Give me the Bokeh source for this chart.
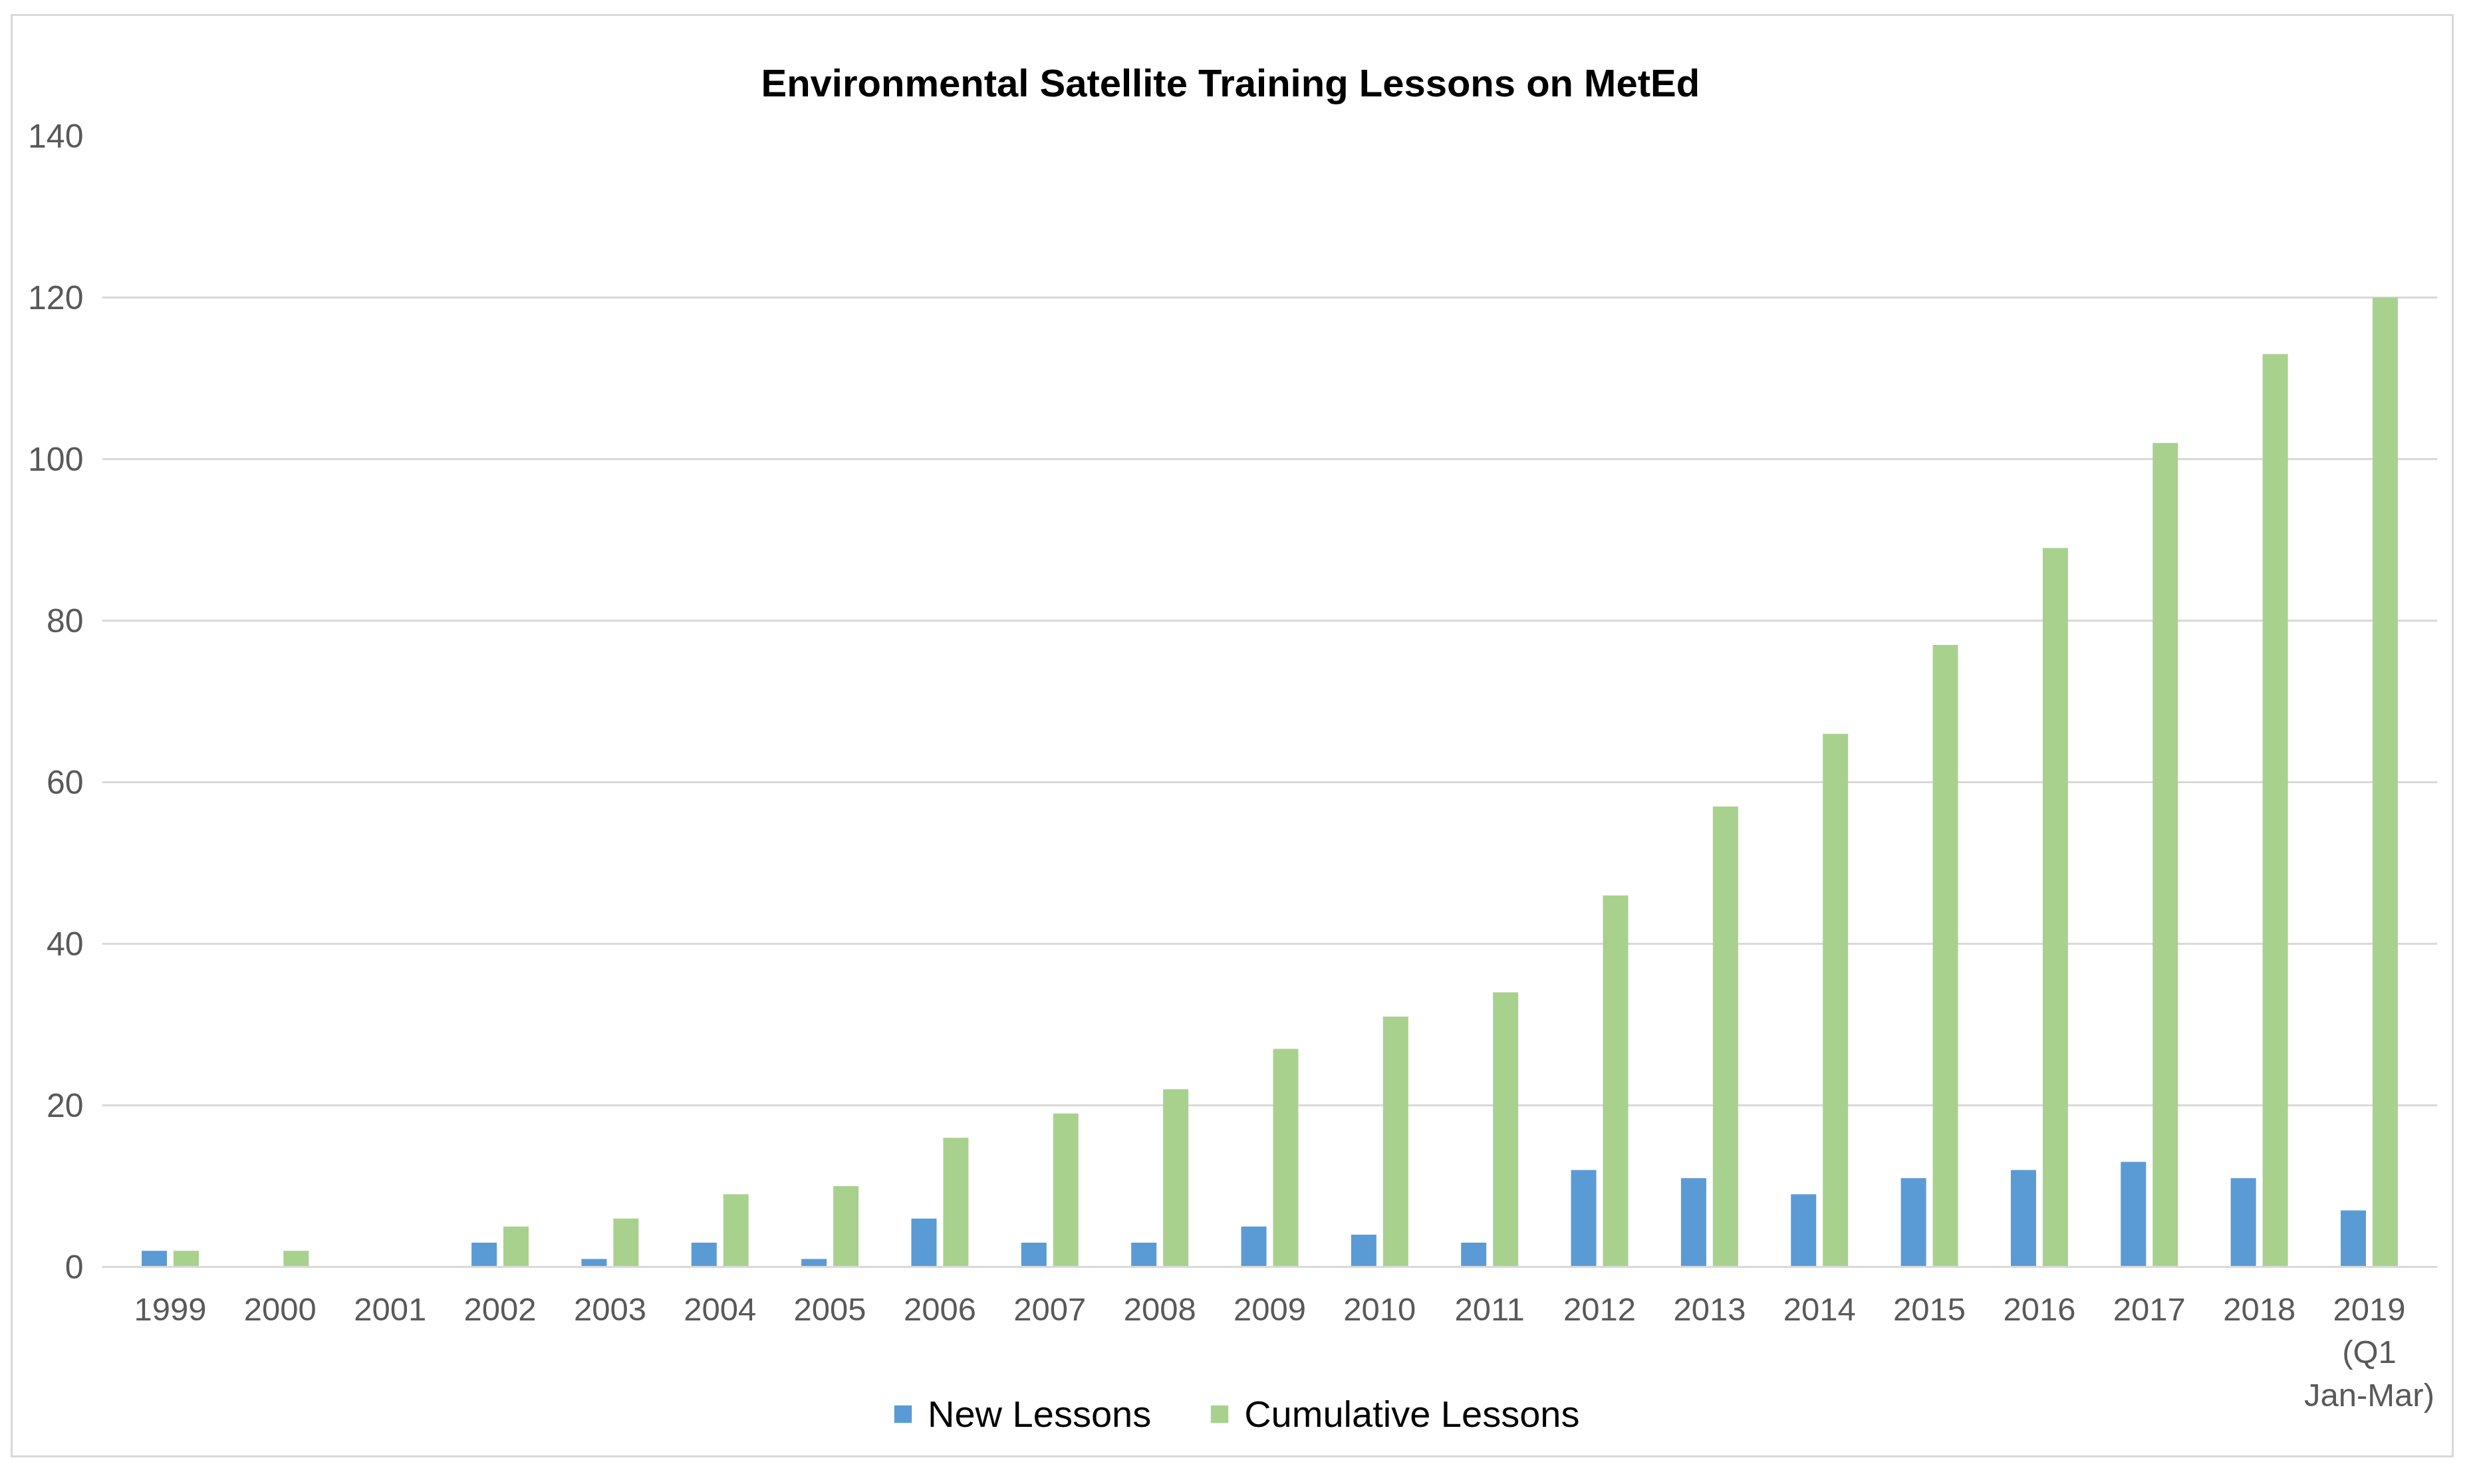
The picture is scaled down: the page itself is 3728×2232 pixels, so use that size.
from bokeh.plotting import figure
from bokeh.models import ColumnDataSource, FactorRange, Range1d, Legend, LegendItem, FixedTicker
from bokeh.transform import dodge
from bokeh.embed import file_html
from bokeh.resources import INLINE

years = ["1999", "2000", "2001", "2002", "2003", "2004", "2005", "2006", "2007", "2008",
         "2009", "2010", "2011", "2012", "2013", "2014", "2015", "2016", "2017", "2018",
         "2019\n(Q1\nJan-Mar)"]
new_lessons = [2, 0, 0, 3, 1, 3, 1, 6, 3, 3, 5, 4, 3, 12, 11, 9, 11, 12, 13, 11, 7]
cumulative_lessons = [2, 2, 0, 5, 6, 9, 10, 16, 19, 22, 27, 31, 34, 46, 57, 66, 77, 89, 102, 113, 120]
y_ticks = [0, 20, 40, 60, 80, 100, 120, 140]

BLUE = "#5B9BD5"
GREEN = "#A9D18E"
GRID = "#D9D9D9"
FONT = "Liberation Sans"

src = ColumnDataSource(dict(year=years, new=new_lessons, cum=cumulative_lessons))

x_range = FactorRange(*years, range_padding=0.12, range_padding_units="absolute")

# frame extends below zero so that the x axis (fixed at 0) and the legend sit inside it
p = figure(width=3674, height=2171, x_range=x_range, y_range=Range1d(-23.04, 140),
           output_backend="svg", toolbar_location=None,
           min_border_left=134, min_border_right=28, min_border_top=180, min_border_bottom=10)
p.margin = (21, 0, 0, 16)
p.styles = {"border": "3px solid #D9D9D9"}
p.outline_line_color = None
p.background_fill_color = "white"
p.border_fill_color = "white"

r1 = p.vbar(x=dodge("year", -0.145, range=p.x_range), top="new", width=0.23, source=src,
            fill_color=BLUE, line_color=None)
r2 = p.vbar(x=dodge("year", 0.145, range=p.x_range), top="cum", width=0.23, source=src,
            fill_color=GREEN, line_color=None)

p.title.text = "Environmental Satellite Training Lessons on MetEd"
p.title.align = "left"
p.title.text_font = FONT
p.title.text_font_size = "58px"
p.title.text_font_style = "bold"
p.title.text_color = "black"
p.title.standoff = 96
p.title.offset = 991

p.xgrid.grid_line_color = None
p.ygrid.ticker = FixedTicker(ticks=y_ticks)
p.ygrid.grid_line_color = GRID
p.ygrid.grid_line_width = 3
p.yaxis.ticker = FixedTicker(ticks=y_ticks)
p.yaxis.axis_line_color = None
p.yaxis.major_tick_line_color = None
p.yaxis.minor_tick_line_color = None
p.yaxis.major_label_text_font = FONT
p.yaxis.major_label_text_font_size = "50px"
p.yaxis.major_label_text_color = "#595959"
p.yaxis.major_label_standoff = 22

p.xaxis.fixed_location = 0
p.xaxis.axis_line_color = GRID
p.xaxis.axis_line_width = 3
p.xaxis.major_tick_line_color = None
p.xaxis.minor_tick_line_color = None
p.xaxis.major_label_text_font = FONT
p.xaxis.major_label_text_font_size = "49px"
p.xaxis.major_label_text_color = "#595959"
p.xaxis.major_label_standoff = 30

legend = Legend(items=[LegendItem(label="New Lessons", renderers=[r1]),
                       LegendItem(label="Cumulative Lessons", renderers=[r2])],
                orientation="horizontal", location=(1188, 26),
                label_text_font=FONT, label_text_font_size="56px", label_text_color="black",
                glyph_width=33, glyph_height=33, spacing=86, label_standoff=21,
                border_line_color=None, background_fill_alpha=0, padding=0, margin=0)
p.add_layout(legend, "center")

open("out.html", "w").write(file_html(p, INLINE))
